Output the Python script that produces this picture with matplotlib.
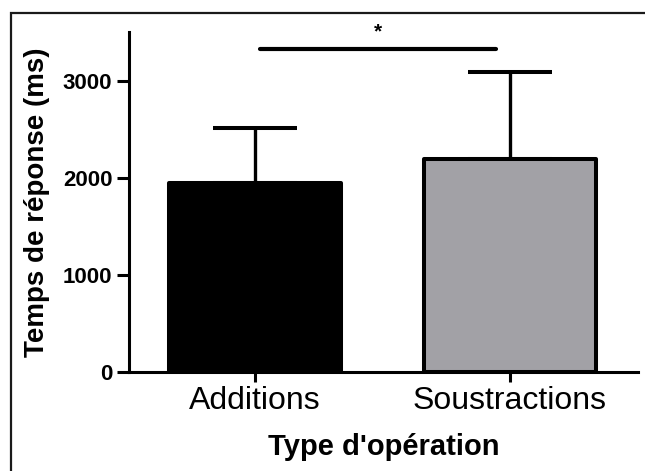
import matplotlib.pyplot as plt
from matplotlib.patches import Rectangle

# Temps de réponse moyens par type d'opération
categories = ["Additions", "Soustractions"]
means = [1950, 2200]
sd = [565, 895]
colors = ["#000000", "#a2a1a6"]

# barre de significativité
sig_x = [0.02, 0.945]
sig_y = 3330
sig_label = "*"

plt.rcParams['font.family'] = ['Liberation Sans', 'DejaVu Sans']

fig = plt.figure(figsize=(6.45, 4.71), dpi=100)
ax = fig.add_axes([0.2, 0.2102, 0.789, 0.7208])

x = range(len(categories))
ax.bar(x, means, width=0.675, color=colors, edgecolor="black", linewidth=2.9,
       joinstyle="round", zorder=2)
ax.errorbar(x, means, yerr=[[0, 0], sd], fmt="none", ecolor="black",
            elinewidth=2.4, capsize=30, capthick=2.9, zorder=1)

ax.plot(sig_x, [sig_y, sig_y], color="black", lw=3, solid_capstyle="round")
ax.text(sum(sig_x) / 2, sig_y + 180, sig_label, ha="center", va="center",
        fontsize=15, fontweight="bold", clip_on=False)

ax.set_xlim(-0.494, 1.502)
ax.set_ylim(0, 3500)
ax.set_yticks([0, 1000, 2000, 3000])
ax.set_xticks(list(x))
ax.set_xticklabels(categories, fontsize=23)
for lab in ax.get_yticklabels():
    lab.set_fontweight("bold")
    lab.set_fontsize(16)

ax.spines[["top", "right"]].set_visible(False)
ax.spines[["left", "bottom"]].set_linewidth(2.2)
ax.tick_params(axis="both", width=2.2, direction="out")
ax.tick_params(axis="y", length=8.5, pad=3.5)
ax.tick_params(axis="x", length=7, pad=3)

ax.set_ylabel("Temps de réponse (ms)", fontsize=20, fontweight="bold", labelpad=9)
ax.set_xlabel("Type d'opération", fontsize=21, fontweight="bold", labelpad=12)

# cadre autour de la figure
fig.patches.append(Rectangle((11 / 645, -0.1), 1.2, 1 - 13 / 471 + 0.1,
                             transform=fig.transFigure, fill=False,
                             edgecolor="#1a1a1a", linewidth=1.6))

fig.savefig("out.png", dpi=100)
